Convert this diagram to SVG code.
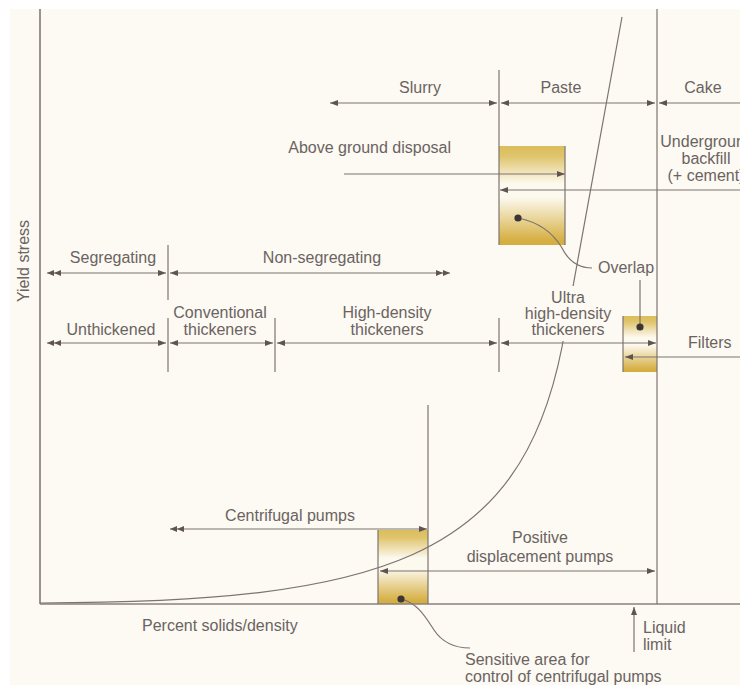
<svg xmlns="http://www.w3.org/2000/svg" width="740" height="685" viewBox="0 0 740 685">
<style>
text{font-family:"Liberation Sans",Arial,sans-serif;font-size:16px;fill:#6b6361}
.m{text-anchor:middle}
.e{text-anchor:end}
.ln{stroke:#7d7370;stroke-width:1.2;fill:none}
.ax{stroke:#8a807c;stroke-width:1.7;fill:none}
.a1{marker-end:url(#ah)}
.a0{marker-start:url(#ah)}
.d0{marker-start:url(#ah2)}
.d1{marker-end:url(#ah2)}
.dot{fill:#3d3533}
.box{fill:url(#gold)}
</style>
<defs>
<marker id="ah" viewBox="0 0 8 6" refX="8" refY="3" markerWidth="8" markerHeight="6" markerUnits="userSpaceOnUse" orient="auto-start-reverse"><path d="M0,0L8,3L0,6z" fill="#5e5553"/></marker>
<marker id="ah2" viewBox="0 0 14 6" refX="14" refY="3" markerWidth="14" markerHeight="6" markerUnits="userSpaceOnUse" orient="auto-start-reverse"><path d="M0,0L7,3L0,6zM7,0L14,3L7,6z" fill="#5e5553"/></marker>
<linearGradient id="gold" x1="0" y1="0" x2="0" y2="1">
<stop offset="0" stop-color="#dcbd5c"/>
<stop offset="0.1" stop-color="#dfc46c"/>
<stop offset="0.38" stop-color="#fcf9ee"/>
<stop offset="0.52" stop-color="#fcf9ee"/>
<stop offset="0.95" stop-color="#d6b044"/>
<stop offset="1" stop-color="#d4ad40"/>
</linearGradient>
</defs>
<rect width="740" height="685" fill="#ffffff"/>
<rect x="10" y="9" width="730" height="676" fill="#fcfaf3"/>

<g id="boxes">
<rect id="overlap-top" class="box" x="499" y="146" width="66" height="99"/>
<rect id="overlap-filters" class="box" x="623" y="316" width="34" height="56"/>
<rect id="sensitive-area" class="box" x="378" y="530" width="50" height="74"/>
</g>

<g id="axes">
<line class="ax" x1="40" y1="9" x2="40" y2="604"/>
<line class="ax" x1="40" y1="604" x2="740" y2="604"/>
<text transform="translate(29,261) rotate(-90)" class="m">Yield stress</text>
<text x="142" y="631">Percent solids/density</text>
</g>

<g id="curve">
<path class="ln" d="M40,603 C380,602 520,560 562,347 L622,17"/>
<rect x="527" y="286" width="86" height="55" fill="#fcfaf3"/>
</g>

<g id="ticks">
<line class="ln" x1="657" y1="9" x2="657" y2="604"/>
<line class="ln" x1="499" y1="70" x2="499" y2="245"/>
<line class="ln" x1="565" y1="146" x2="565" y2="245"/>
<line class="ln" x1="168" y1="245" x2="168" y2="300"/>
<line class="ln" x1="168" y1="318" x2="168" y2="372"/>
<line class="ln" x1="275" y1="318" x2="275" y2="372"/>
<line class="ln" x1="499" y1="318" x2="499" y2="372"/>
<line class="ln" x1="623" y1="316" x2="623" y2="372"/>
<line class="ln" x1="428" y1="405" x2="428" y2="604"/>
<line class="ln" x1="378" y1="530" x2="378" y2="604"/>
</g>

<g id="connectors">
<line class="ln a0 a1" x1="330" y1="103" x2="497" y2="103"/>
<line class="ln a0 a1" x1="501" y1="103" x2="655" y2="103"/>
<line class="ln a0" x1="659" y1="103" x2="745" y2="103"/>
<line class="ln a1" x1="344" y1="174" x2="565" y2="174"/>
<line class="ln a1" x1="745" y1="190" x2="500" y2="190"/>
<line class="ln d0 a1" x1="47" y1="273" x2="166" y2="273"/>
<line class="ln a0 d1" x1="170" y1="273" x2="450" y2="273"/>
<line class="ln d0 a1" x1="47" y1="343" x2="166" y2="343"/>
<line class="ln a0 a1" x1="170" y1="343" x2="273" y2="343"/>
<line class="ln a0 a1" x1="277" y1="343" x2="497" y2="343"/>
<line class="ln a0 a1" x1="501" y1="343" x2="656" y2="343"/>
<line class="ln a1" x1="745" y1="357" x2="625" y2="357"/>
<line class="ln d0 a1" x1="170" y1="529" x2="427" y2="529"/>
<line class="ln a0 a1" x1="380" y1="571" x2="655" y2="571"/>
<line class="ln a1" x1="634" y1="652" x2="634" y2="607"/>
<path class="ln" d="M518,218 Q548,224 562,248 Q572,268 592,268"/>
<line class="ln" x1="640" y1="327" x2="640" y2="280"/>
<path class="ln" d="M401,599 C418,603 426,618 434,630 Q446,648 470,648"/>
</g>

<g id="dots">
<circle class="dot" cx="518" cy="218" r="3.6"/>
<circle class="dot" cx="640" cy="327" r="3.6"/>
<circle class="dot" cx="401" cy="599" r="3.6"/>
</g>

<g id="n-slurry"><text class="m" x="420" y="93">Slurry</text></g>
<g id="n-paste"><text class="m" x="561" y="93">Paste</text></g>
<g id="n-cake"><text class="m" x="703" y="93">Cake</text></g>
<g id="n-above"><text class="e" x="451" y="153">Above ground disposal</text></g>
<g id="n-underground"><text class="m" x="707" y="147">Underground</text><text class="m" x="706" y="164">backfill</text><text class="m" x="706" y="181">(+ cement)</text></g>
<g id="n-overlap"><text x="598" y="273">Overlap</text></g>
<g id="n-segregating"><text class="m" x="113" y="263">Segregating</text></g>
<g id="n-nonseg"><text class="m" x="322" y="263">Non-segregating</text></g>
<g id="n-unthickened"><text class="m" x="111" y="335">Unthickened</text></g>
<g id="n-conventional"><text class="m" x="220" y="318">Conventional</text><text class="m" x="220" y="335">thickeners</text></g>
<g id="n-highdensity"><text class="m" x="387" y="318">High-density</text><text class="m" x="387" y="335">thickeners</text></g>
<g id="n-ultra"><text class="m" x="568" y="303">Ultra</text><text class="m" x="568" y="319">high-density</text><text class="m" x="568" y="335">thickeners</text></g>
<g id="n-filters"><text x="688" y="348">Filters</text></g>
<g id="n-centrifugal"><text class="m" x="290" y="521">Centrifugal pumps</text></g>
<g id="n-positive"><text class="m" x="540" y="543">Positive</text><text class="m" x="540" y="562">displacement pumps</text></g>
<g id="n-liquid"><text x="643" y="633">Liquid</text><text x="643" y="650">limit</text></g>
<g id="n-sensitive"><text x="465" y="665">Sensitive area for</text><text x="465" y="682">control of centrifugal pumps</text></g>
</svg>
